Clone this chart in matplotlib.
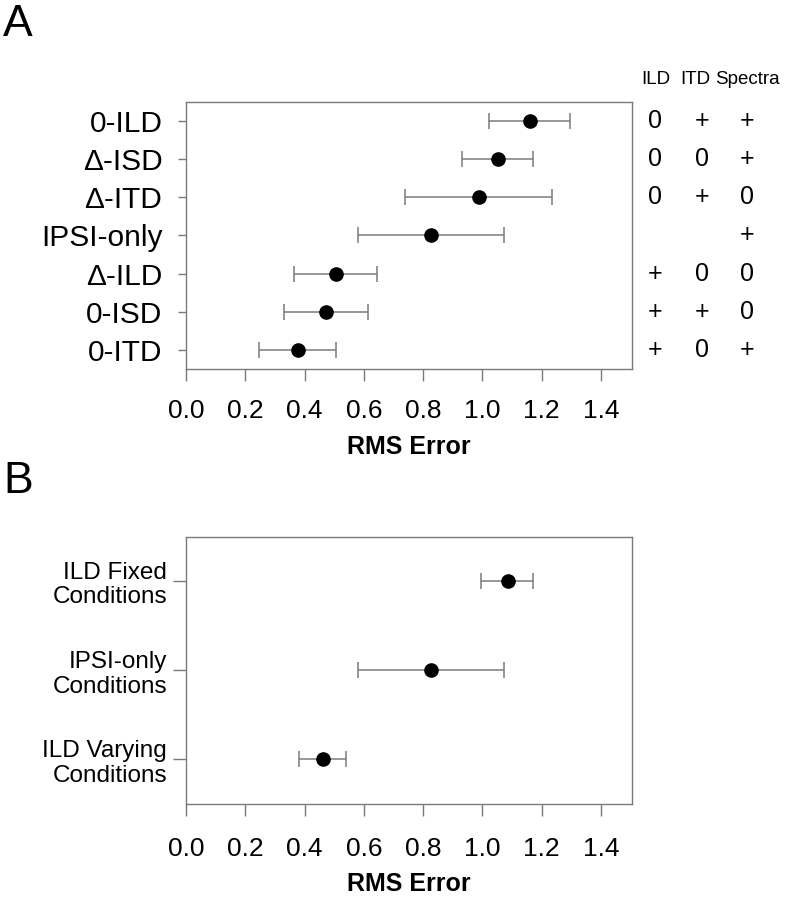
import matplotlib
matplotlib.use('Agg')
from matplotlib import pyplot as plt
from matplotlib.transforms import blended_transform_factory

plt.rcParams['font.family'] = ['Liberation Sans', 'DejaVu Sans']

# Panel A data (bottom to top)
cond_a = ['0-ITD', '0-ISD', 'Δ-ILD', 'IPSI-only', 'Δ-ITD', 'Δ-ISD', '0-ILD']
rms_a = [0.379, 0.472, 0.505, 0.826, 0.988, 1.053, 1.160]
lo_a = [0.247, 0.330, 0.364, 0.579, 0.739, 0.933, 1.023]
hi_a = [0.507, 0.613, 0.644, 1.072, 1.236, 1.172, 1.297]

# cue table to the right (same order as cond_a)
col_ild = ['+', '+', '+', '', '0', '0', '0']
col_itd = ['0', '+', '0', '', '+', '0', '+']
col_spec = ['+', '0', '0', '+', '0', '+', '+']
table_head = ['ILD', 'ITD', 'Spectra']

# Panel B data (bottom to top)
cond_b = ['ILD Varying\nConditions', 'IPSI-only\nConditions', 'ILD Fixed\nConditions']
rms_b = [0.461, 0.826, 1.087]
lo_b = [0.382, 0.580, 0.996]
hi_b = [0.541, 1.073, 1.170]

xticks = [0.0, 0.2, 0.4, 0.6, 0.8, 1.0, 1.2, 1.4]
gray = '#7a7a7a'

fig = plt.figure(figsize=(8, 9), dpi=100)
ax_a = fig.add_axes([0.2325, 0.59, 0.5575, 0.2967])
ax_b = fig.add_axes([0.2325, 0.1067, 0.5575, 0.2967])


def draw(ax, labels, rms, lo, hi, ylab_size, ytick_len, ytick_pad, xpad, lpad):
    y = list(range(1, len(labels) + 1))
    xerr = [[r - l for r, l in zip(rms, lo)], [h - r for r, h in zip(rms, hi)]]
    ax.errorbar(rms, y, xerr=xerr, fmt='none', ecolor=gray, elinewidth=1.1,
                capsize=5.5, capthick=1.1)
    ax.plot(rms, y, 'o', color='black', markersize=9.5, zorder=3)
    ax.set_xlim(0, 1.505)
    ax.set_ylim(0.5, len(labels) + 0.5)
    ax.set_xticks(xticks)
    ax.set_xticklabels(['%.1f' % t for t in xticks], fontsize=19)
    ax.set_yticks(y)
    ax.set_yticklabels(labels, fontsize=ylab_size)
    ax.tick_params(axis='x', length=8.5, color=gray, width=1, pad=xpad)
    ax.tick_params(axis='y', length=ytick_len, color=gray, width=1, pad=ytick_pad)
    for s in ax.spines.values():
        s.set_color(gray)
        s.set_linewidth(1)
    ax.set_xlabel('RMS Error', fontsize=18, fontweight='bold', labelpad=lpad)


draw(ax_a, cond_a, rms_a, lo_a, hi_a, 21.5, 6, 11, 13, 9)
draw(ax_b, cond_b, rms_b, lo_b, hi_b, 17.5, 9.5, 4, 15, 8.5)
for t in ax_b.get_yticklabels():
    t.set_multialignment('right')
    t.set_linespacing(1.15)

# cue table
tr = blended_transform_factory(fig.transFigure, ax_a.transData)
col_x = [0.819, 0.877, 0.934]
for x, col in zip(col_x, [col_ild, col_itd, col_spec]):
    for i, s in enumerate(col):
        ax_a.text(x, i + 1, s, transform=tr, ha='center', va='center',
                  fontsize=18, clip_on=False)
head_x = [0.82, 0.869, 0.934]
for x, h in zip(head_x, table_head):
    ax_a.text(x, 8.08, h, transform=tr, ha='center', va='center',
              fontsize=13.5, clip_on=False)

fig.text(0.004, 0.995, 'A', fontsize=32, va='top', ha='left')
fig.text(0.004, 0.488, 'B', fontsize=32, va='top', ha='left')

fig.savefig('out.png', dpi=100)
